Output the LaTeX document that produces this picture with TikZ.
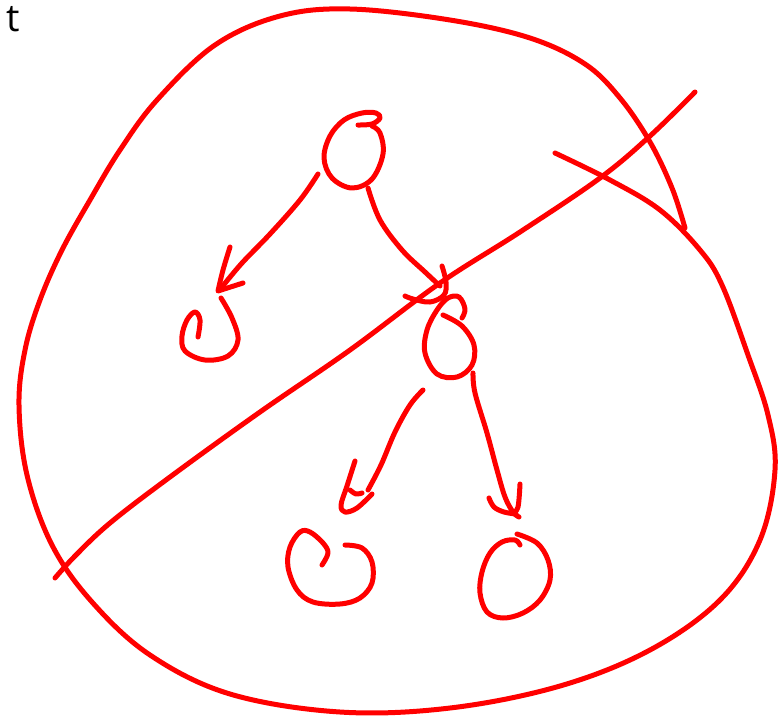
\documentclass[tikz,border=0pt]{standalone}
\usepackage{fontspec}
\setmainfont{Open Sans}
\begin{document}
\begin{tikzpicture}[x=1pt,y=-1pt,
  ink/.style={draw=red, line width=5pt, line cap=round, line join=round},
  sm/.style={smooth, tension=0.6}]
\useasboundingbox (0,0) rectangle (782,718);
\node[anchor=base west, inner sep=0pt, text height=24pt, text depth=0pt, font=\fontsize{38}{38}\selectfont] (lbl) at (6,31) {t};
% outer closed curve
\draw[ink] plot[sm] coordinates {(685,228) (672,188) (650,142) (620,98) (585,64) (530,38) (450,20) (350,9) (280,16) (215,45) (157,100) (120,150) (90,200) (62,250) (40,300) (25,350) (19,405) (27,475) (52,545) (92,602) (150,655) (230,694) (340,712) (450,708) (560,686) (650,650) (720,600) (760,540) (775,470) (768,415) (748,355) (722,285) (700,250) (660,210) (610,180) (555,153)};
% diagonal stroke
\draw[ink] plot[sm] coordinates {(55,578) (75,556) (110,523) (170,477) (260,412) (350,350) (440,283) (520,232) (600,178) (650,136) (695,92)};
% root
\draw[ink] plot[sm] coordinates {(358,125) (372,124) (380,118) (376,113) (362,113) (344,120) (330,136) (324,158) (332,178) (352,188) (372,179) (383,154) (380,133) (372,126)};
% left arrow
\draw[ink] plot[sm] coordinates {(318,174) (300,200) (270,234) (242,263) (222,287)};
\draw[ink] plot[sm] coordinates {(230,247) (223,270) (218,291)} -- (243,283);
% left child
\draw[ink] plot[sm] coordinates {(221,298) (232,318) (238,340) (228,356) (205,360) (185,351) (182,336) (187,320) (195,312) (200,320) (198,337)};
% right arrow from root
\draw[ink] plot[sm] coordinates {(368,188) (380,220) (402,250) (425,272) (440,286)};
\draw[ink] plot[sm] coordinates {(442,266) (446,282) (444,295) (430,302) (413,299) (405,296)};
% middle child
\draw[ink] plot[sm] coordinates {(443,315) (462,326) (474,345) (472,365) (457,377) (437,374) (425,353) (427,330) (437,310) (448,298) (459,297) (465,309) (462,318)};
% bottom-left arrow
\draw[ink] plot[sm] coordinates {(423,390) (410,405) (395,432) (381,465) (368,490)};
\draw[ink] plot[sm] coordinates {(355,461) (347,486) (341,505) (345,512) (357,508) (372,494)};
\draw[ink] plot[sm] coordinates {(350,490) (356,494) (362,493)};
% bottom-left child
\draw[ink] plot[sm] coordinates {(322,565) (328,553) (323,543) (310,532) (300,532) (290,547) (288,567) (297,590) (313,602) (340,604) (360,598) (372,583) (372,562) (362,548) (345,545)};
% bottom-right arrow
\draw[ink] plot[sm] coordinates {(473,373) (475,393) (487,433) (497,470) (505,497) (513,512) (519,517)};
\draw[ink] plot[sm] coordinates {(520,484) (518,507) (513,513)};
\draw[ink] plot[sm] coordinates {(489,498) (494,507) (504,512) (516,514)};
% bottom-right child
\draw[ink] plot[sm] coordinates {(517,534) (537,543) (548,560) (550,580) (540,600) (523,613) (503,618) (487,612) (480,593) (482,572) (490,553) (502,542) (515,540) (520,545)};
\end{tikzpicture}
\end{document}
